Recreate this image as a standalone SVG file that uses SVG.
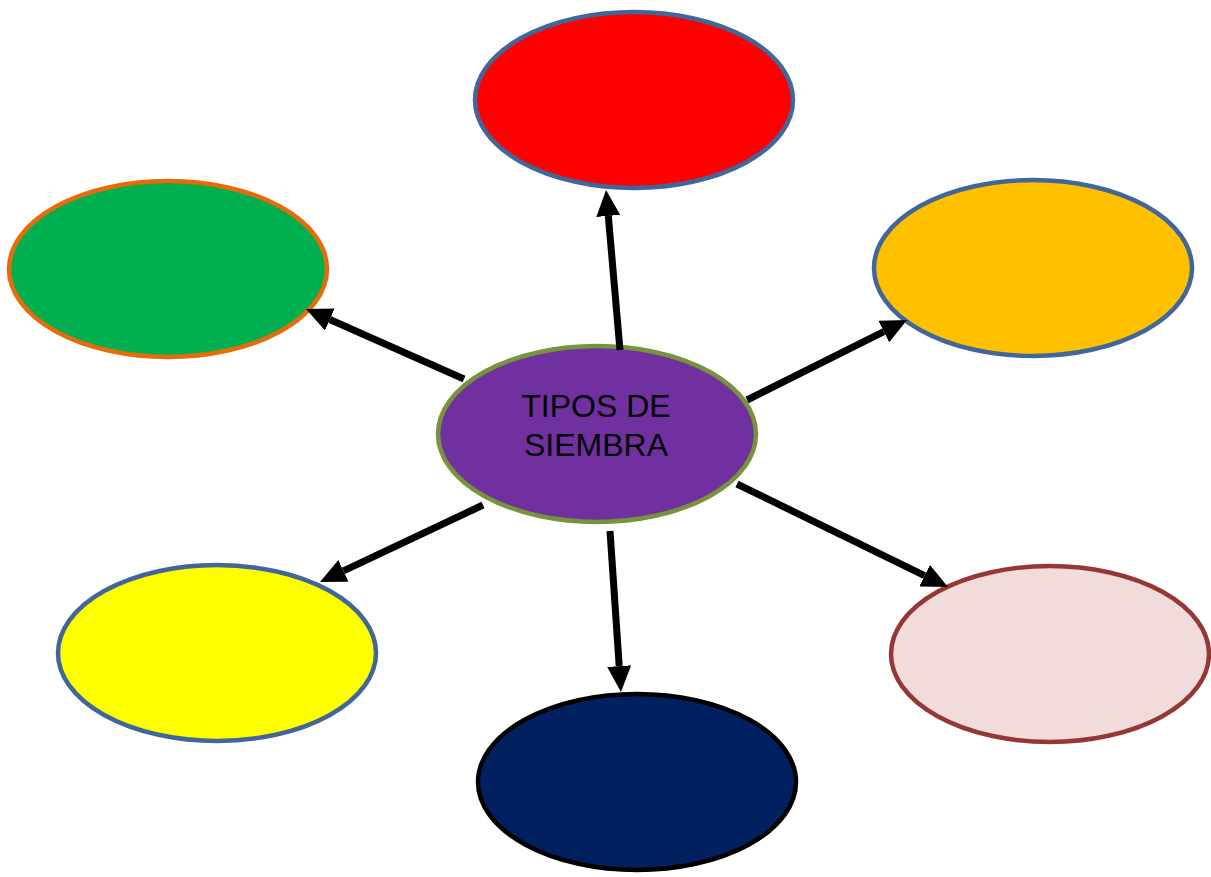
<svg xmlns="http://www.w3.org/2000/svg" width="1211" height="877" viewBox="0 0 1211 877">
<defs>
<style>
.n{stroke-width:4.5}
.c line{stroke:#000;stroke-width:7;marker-end:url(#ah)}
.t{font-family:"Liberation Sans",Arial,sans-serif;font-size:32px;fill:#000;text-anchor:middle}
</style>
<marker id="ah" markerUnits="userSpaceOnUse" markerWidth="27" markerHeight="24" refX="0" refY="12" orient="auto" viewBox="0 0 27 24">
<path d="M0,0 L26,12 L0,24 z" fill="#000"/>
</marker>
</defs>
<rect width="1211" height="877" fill="#fff"/>
<g id="n-red"><ellipse class="n" cx="634" cy="100" rx="159" ry="88" fill="#FF0000" stroke="#41669A"/></g>
<g id="n-green"><ellipse class="n" cx="168" cy="269" rx="159" ry="88" fill="#00B050" stroke="#E46C0A"/></g>
<g id="n-orange"><ellipse class="n" cx="1033" cy="268" rx="159" ry="88" fill="#FFC000" stroke="#41669A"/></g>
<g id="n-yellow"><ellipse class="n" cx="217" cy="653" rx="159" ry="88" fill="#FFFF00" stroke="#41669A"/></g>
<g id="n-navy"><ellipse class="n" cx="637" cy="782" rx="159" ry="88" fill="#002060" stroke="#000"/></g>
<g id="n-pink"><ellipse class="n" cx="1050" cy="654" rx="159" ry="88" fill="#F2DCDB" stroke="#953735"/></g>
<g id="n-center"><ellipse class="n" cx="597" cy="434" rx="159" ry="88" fill="#7030A0" stroke="#77933C"/>
<text class="t" x="596" y="417">TIPOS DE</text>
<text class="t" x="596" y="456">SIEMBRA</text></g>
<g id="connectors" class="c">
<line x1="620" y1="350" x2="608.3" y2="215.9"/>
<line x1="464" y1="379" x2="329.8" y2="319.5"/>
<line x1="747" y1="400" x2="883.8" y2="331.6"/>
<line x1="737" y1="484" x2="924.6" y2="575.6"/>
<line x1="610" y1="531" x2="619.2" y2="666.1"/>
<line x1="483" y1="505" x2="343.5" y2="570.9"/>
</g>
</svg>
